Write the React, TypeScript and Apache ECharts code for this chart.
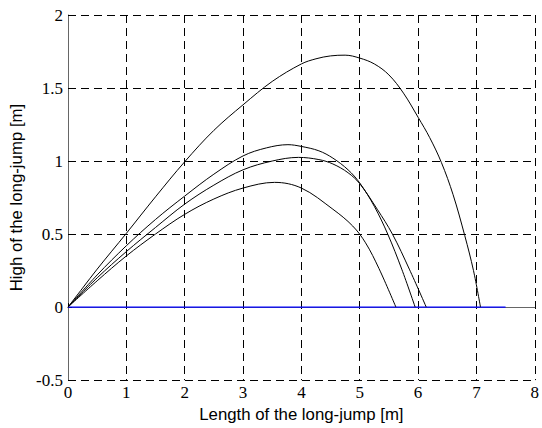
import React, { useEffect, useRef } from "react";
import * as echarts from "echarts";

const xTicks = [0, 1, 2, 3, 4, 5, 6, 7, 8];
const yTicks = [-0.5, 0, 0.5, 1, 1.5, 2];

const jumpA: [number, number][] = [
  [0, 0], [0.25, 0.13], [0.5, 0.26], [1, 0.505], [1.5, 0.755], [2, 0.995], [2.5, 1.21], [3, 1.385],
  [3.5, 1.545], [4, 1.665], [4.25, 1.7], [4.5, 1.72], [4.75, 1.725], [5, 1.705], [5.25, 1.665],
  [5.5, 1.59], [5.75, 1.465], [6, 1.3], [6.2, 1.16], [6.4, 0.99], [6.6, 0.77], [6.8, 0.49],
  [6.95, 0.25], [7.07, 0],
];
const jumpB: [number, number][] = [
  [0, 0], [0.5, 0.22], [1, 0.42], [1.5, 0.6], [2, 0.76], [2.5, 0.91], [3, 1.035], [3.4, 1.09],
  [3.77, 1.112], [4, 1.1], [4.3, 1.07], [4.54, 1.02], [4.8, 0.94], [5, 0.85], [5.25, 0.69],
  [5.48, 0.5], [5.72, 0.26], [5.95, 0],
];
const jumpC: [number, number][] = [
  [0, 0], [0.5, 0.2], [1, 0.38], [1.5, 0.545], [2, 0.705], [2.5, 0.835], [3, 0.94], [3.5, 1.0],
  [3.95, 1.025], [4.3, 1.01], [4.54, 0.98], [4.8, 0.92], [5, 0.845], [5.3, 0.67], [5.56, 0.5],
  [5.85, 0.26], [6.14, 0],
];
const jumpD: [number, number][] = [
  [0, 0], [0.5, 0.18], [1, 0.35], [1.5, 0.5], [2, 0.635], [2.5, 0.74], [3, 0.815], [3.54, 0.854],
  [4, 0.815], [4.54, 0.67], [4.88, 0.555], [5.1, 0.44], [5.33, 0.264], [5.62, 0],
];
const groundLine: [number, number][] = [[0, 0], [7.5, 0]];

const curves = [jumpA, jumpB, jumpC, jumpD];

export default function App() {
  const ref = useRef<HTMLDivElement>(null);
  useEffect(() => {
    if (!ref.current) return;
    const chart = echarts.init(ref.current, null, { renderer: "svg" });
    chart.setOption({
      animation: false,
      backgroundColor: "#fff",
      grid: { left: 68, right: 6, top: 15, bottom: 46 },
      xAxis: {
        type: "value", min: xTicks[0], max: xTicks[xTicks.length - 1], interval: 1,
        name: "Length of the long-jump [m]", nameLocation: "middle", nameGap: 25,
        nameTextStyle: { fontFamily: "Liberation Sans", fontSize: 16.8, color: "#000" },
        axisLine: { show: true, lineStyle: { color: "#666", width: 1 } },
        axisTick: { show: true, inside: true, length: 4, lineStyle: { color: "#000" } },
        axisLabel: { fontFamily: "Liberation Serif", fontSize: 17, color: "#000", margin: 4 },
        splitLine: { show: true, lineStyle: { color: "#000", type: [8, 5], width: 1 } },
      },
      yAxis: {
        type: "value", min: yTicks[0], max: yTicks[yTicks.length - 1], interval: 0.5,
        name: "High of the long-jump [m]", nameLocation: "middle", nameGap: 43,
        nameTextStyle: { fontFamily: "Liberation Sans", fontSize: 16.8, color: "#000" },
        axisLine: { show: true, lineStyle: { color: "#666", width: 1 } },
        axisTick: { show: true, inside: true, length: 4, lineStyle: { color: "#000" } },
        axisLabel: { fontFamily: "Liberation Serif", fontSize: 17, color: "#000", margin: 5 },
        splitLine: { show: true, lineStyle: { color: "#000", type: [8, 5], width: 1 } },
      },
      series: [
        ...curves.map((c) => ({
          type: "line", data: c, showSymbol: false, smooth: 0.35,
          lineStyle: { color: "#000", width: 1 }, z: 3,
        })),
        {
          type: "line", data: groundLine, showSymbol: false,
          lineStyle: { color: "#0000ff", width: 1.2 }, z: 2,
        },
      ],
    });
    return () => chart.dispose();
  }, []);
  return <div ref={ref} style={{ width: 542, height: 428, position: "absolute", left: 0, top: 0 }} />;
}
